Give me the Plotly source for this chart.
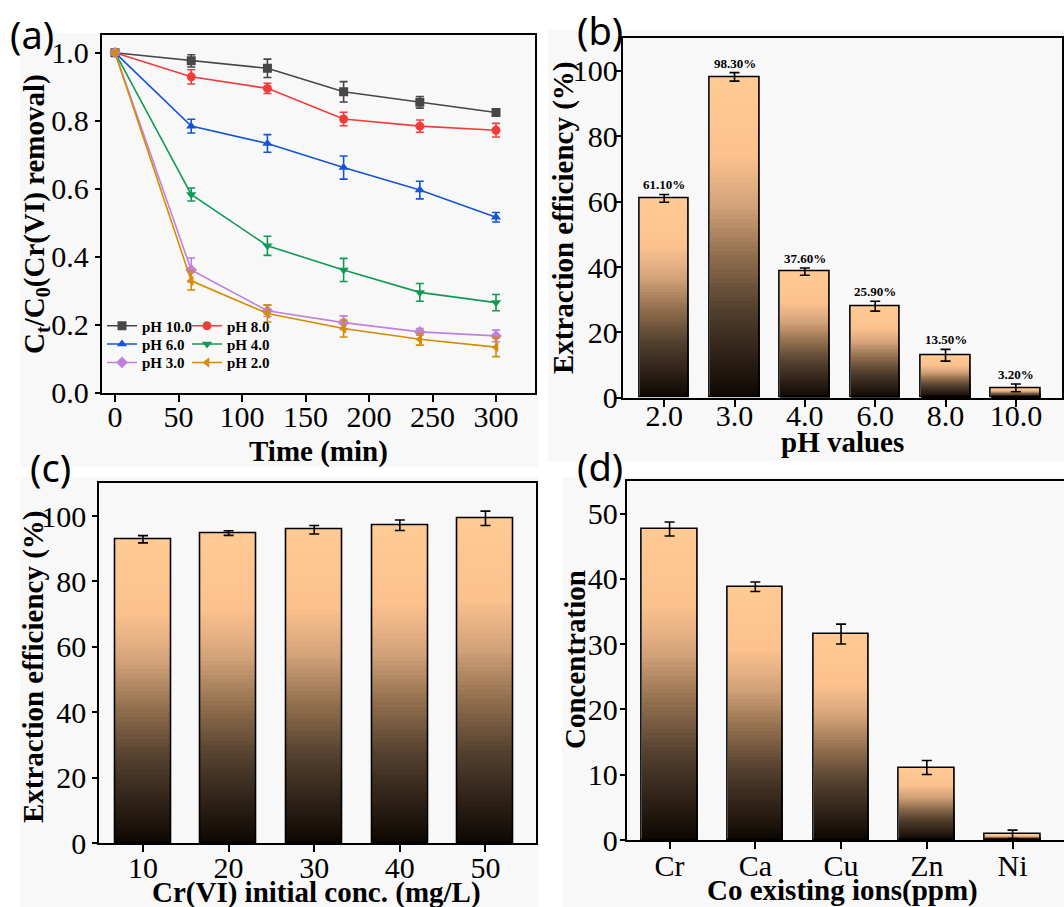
import plotly.graph_objects as go
import numpy as np

# ---------------- data ----------------
# (a) kinetics
time_min = [0, 60, 120, 180, 240, 300]
ph_names = ['pH 10.0', 'pH 8.0', 'pH 6.0', 'pH 4.0', 'pH 3.0', 'pH 2.0']
ct_ph10 = [1.0, 0.976, 0.954, 0.885, 0.854, 0.824]
ct_ph8 = [1.0, 0.929, 0.895, 0.805, 0.784, 0.772]
ct_ph6 = [1.0, 0.784, 0.733, 0.662, 0.596, 0.516]
ct_ph4 = [1.0, 0.583, 0.432, 0.361, 0.295, 0.265]
ct_ph3 = [1.0, 0.361, 0.241, 0.206, 0.179, 0.167]
ct_ph2 = [1.0, 0.329, 0.233, 0.189, 0.157, 0.134]
err_ph10 = [0.006, 0.018, 0.027, 0.030, 0.017, 0.010]
err_ph8 = [0.006, 0.021, 0.015, 0.020, 0.018, 0.020]
err_ph6 = [0.006, 0.020, 0.026, 0.034, 0.026, 0.014]
err_ph4 = [0.006, 0.019, 0.028, 0.034, 0.026, 0.024]
err_ph3 = [0.006, 0.035, 0.017, 0.020, 0.010, 0.017]
err_ph2 = [0.006, 0.027, 0.025, 0.025, 0.017, 0.028]

# (b) pH effect
ph_cats = ['2.0', '3.0', '4.0', '6.0', '8.0', '10.0']
ph_eff = [61.0, 98.2, 38.6, 28.0, 13.0, 3.0]
ph_err = [1.2, 1.3, 1.1, 1.5, 1.8, 1.2]
ph_labels = ['61.10%', '98.30%', '37.60%', '25.90%', '13.50%', '3.20%']

# (c) initial concentration
conc_cats = ['10', '20', '30', '40', '50']
conc_eff = [92.9, 94.8, 95.8, 97.2, 99.3]
conc_err = [1.1, 0.7, 1.3, 1.6, 2.2]

# (d) co-existing ions
ion_cats = ['Cr', 'Ca', 'Cu', 'Zn', 'Ni']
ion_conc = [47.65, 38.8, 31.55, 11.1, 0.87]
ion_err = [1.07, 0.72, 1.53, 1.07, 0.64]

# ---------------- styles ----------------
series_colors = ['#474747', '#f23c3c', '#1554d4', '#129a55', '#bf80e0', '#d48c00']
series_symbols = ['square', 'circle', 'triangle-up', 'triangle-down', 'diamond', 'triangle-left']
legend_of = ['legend', 'legend', 'legend2', 'legend2', 'legend3', 'legend3']

grad_stops = [0.0, 0.12, 0.28, 0.45, 0.6, 0.75, 1.0]
grad_cols = ['#0d0702', '#2b1f15', '#54402f', '#94714f', '#d4a37a', '#fbc18e', '#ffca94']

SERIF = 'Liberation Serif'
W, H = 1064, 907


def hex2rgb(h):
    h = h.lstrip('#')
    return [int(h[i:i + 2], 16) for i in (0, 2, 4)]


def grad_color(f):
    rgbs = np.array([hex2rgb(c) for c in grad_cols], dtype=float)
    r = [np.interp(f, grad_stops, rgbs[:, i]) for i in range(3)]
    return 'rgb(%d,%d,%d)' % tuple(int(round(v)) for v in r)


def gradient_bars(cats, vals, width, xa, ya, n=70):
    xs, ys, cs = [], [], []
    for k in range(n, 0, -1):
        col = grad_color((k - 0.5) / n)
        for c, v in zip(cats, vals):
            xs.append(c)
            ys.append(v * k / n)
            cs.append(col)
    return go.Bar(x=xs, y=ys, width=width, xaxis=xa, yaxis=ya,
                  marker=dict(color=cs, line=dict(width=0)),
                  showlegend=False, hoverinfo='skip')


def outline_bars(cats, vals, errs, width, xa, ya):
    return go.Bar(x=cats, y=vals, width=width, xaxis=xa, yaxis=ya,
                  marker=dict(color='rgba(0,0,0,0)', line=dict(color='black', width=1.6)),
                  error_y=dict(type='data', array=errs, color='black', thickness=1.6, width=5),
                  showlegend=False)


fig = go.Figure()

# (a)
ct_all = [ct_ph10, ct_ph8, ct_ph6, ct_ph4, ct_ph3, ct_ph2]
err_all = [err_ph10, err_ph8, err_ph6, err_ph4, err_ph3, err_ph2]
for name, yv, ev, col, sym, lg in zip(ph_names, ct_all, err_all, series_colors, series_symbols, legend_of):
    fig.add_trace(go.Scatter(
        x=time_min, y=yv, mode='lines+markers', name=name, legend=lg,
        line=dict(color=col, width=1.6),
        marker=dict(symbol=sym, size=9, color=col),
        error_y=dict(type='data', array=ev, color=col, thickness=1.6, width=4),
        xaxis='x', yaxis='y'))

# (b)
fig.add_trace(gradient_bars(ph_cats, ph_eff, 0.706, 'x2', 'y2'))
fig.add_trace(outline_bars(ph_cats, ph_eff, ph_err, 0.706, 'x2', 'y2'))
# (c)
fig.add_trace(gradient_bars(conc_cats, conc_eff, 0.654, 'x3', 'y3'))
fig.add_trace(outline_bars(conc_cats, conc_eff, conc_err, 0.654, 'x3', 'y3'))
# (d)
fig.add_trace(gradient_bars(ion_cats, ion_conc, 0.65, 'x4', 'y4'))
fig.add_trace(outline_bars(ion_cats, ion_conc, ion_err, 0.65, 'x4', 'y4'))


def px_x(p):
    return p / W


def px_y(p):
    return (H - p) / H


tick_font = dict(family=SERIF, size=30, color='black')
axis_common = dict(showline=True, linecolor='black', linewidth=2, mirror=True,
                   ticks='outside', tickwidth=2, tickcolor='black',
                   showgrid=False, zeroline=False, tickfont=tick_font, automargin=False)

layout_axes = dict(
    xaxis=dict(domain=[px_x(101.7), px_x(535)], range=[-10.5, 330.7], tickvals=[0, 50, 100, 150, 200, 250, 300],
               anchor='y', ticklen=7, ticklabelstandoff=-11, **axis_common),
    yaxis=dict(domain=[px_y(392.7), px_y(35)], range=[0, 1.052], tickvals=[0, 0.2, 0.4, 0.6, 0.8, 1.0],
               tickformat='.1f', anchor='x', ticklen=5, **axis_common),
    xaxis2=dict(domain=[px_x(622.7), px_x(1062.3)], range=[-0.59, 5.66], type='category', anchor='y2',
                ticklen=7, ticklabelstandoff=-17, **axis_common),
    yaxis2=dict(domain=[px_y(397.7), px_y(38.3)], range=[0, 110], tickvals=[0, 20, 40, 60, 80, 100],
                anchor='x2', ticklen=5, ticklabelstandoff=-8, **axis_common),
    xaxis3=dict(domain=[px_x(99.3), px_x(536)], range=[-0.51, 4.59], type='category', anchor='y3',
                ticklen=7, ticklabelstandoff=-10, **axis_common),
    yaxis3=dict(domain=[px_y(843.3), px_y(483.3)], range=[0, 110], tickvals=[0, 20, 40, 60, 80, 100],
                anchor='x3', ticklen=5, **axis_common),
    xaxis4=dict(domain=[px_x(626.7), 1.0], range=[-0.5, 4.6], type='category', anchor='y4',
                ticklen=7, ticklabelstandoff=-9, **axis_common),
    yaxis4=dict(domain=[px_y(840), px_y(481)], range=[0, 55], tickvals=[0, 10, 20, 30, 40, 50],
                anchor='x4', ticklen=5, ticklabelstandoff=-4, **axis_common),
)

title_font = dict(family=SERIF, size=29, color='black', weight='bold')
label_font = dict(family='Noto Sans', size=38, color='black')

annotations = []


def add_text(text, x, y, font, textangle=0, xref='paper', yref='paper', xanchor='center', yanchor='middle', **kw):
    annotations.append(dict(text=text, x=x, y=y, xref=xref, yref=yref, showarrow=False,
                            font=font, textangle=textangle, xanchor=xanchor, yanchor=yanchor, **kw))


# axis titles
add_text('Time (min)', px_x(318), px_y(451), title_font)
add_text('C<sub>t</sub>/C<sub>0</sub>(Cr(VI) removal)', px_x(36), px_y(214), title_font, textangle=-90)
add_text('pH values', px_x(842), px_y(442), title_font)
add_text('Extraction efficiency (%)', px_x(563), px_y(218), title_font, textangle=-90)
add_text('Cr(VI) initial conc. (mg/L)', px_x(316), px_y(892), title_font)
add_text('Extraction efficiency (%)', px_x(34), px_y(667), title_font, textangle=-90)
add_text('Co existing ions(ppm)', px_x(842), px_y(890), title_font)
add_text('Concentration', px_x(575), px_y(660), title_font, textangle=-90)

# panel labels
add_text('(a)', px_x(32), px_y(34), label_font)
add_text('(b)', px_x(600), px_y(30), label_font)
add_text('(c)', px_x(50), px_y(467), label_font)
add_text('(d)', px_x(600), px_y(466), label_font)

# value labels on (b)
for i, (v, e, t) in enumerate(zip(ph_eff, ph_err, ph_labels)):
    add_text(t, i, v + e, dict(family=SERIF, size=13, color='black', weight='bold'),
             xref='x2', yref='y2', yanchor='bottom', yshift=0)

# panel backgrounds
bg = '#f8f8f8'
shapes = []
for (x0, y0, x1, y1) in [(20, 33, 538, 467), (548, 30, 1064, 462), (20, 477, 538, 907), (562, 477, 1064, 907)]:
    shapes.append(dict(type='rect', xref='paper', yref='paper', x0=px_x(x0), x1=px_x(x1),
                       y0=px_y(y1), y1=px_y(y0), fillcolor=bg, line=dict(width=0), layer='below'))

leg_font = dict(family=SERIF, size=15, color='black', weight='bold')
leg_common = dict(orientation='h', x=px_x(102), xanchor='left', yanchor='middle', font=leg_font,
                  bgcolor='rgba(0,0,0,0)', entrywidth=40, entrywidthmode='pixels', borderwidth=0,
                  tracegroupgap=0)

fig.update_layout(
    width=W, height=H, margin=dict(l=0, r=0, t=0, b=0, pad=0, autoexpand=False),
    paper_bgcolor='white', plot_bgcolor=bg,
    barmode='overlay', bargap=0,
    annotations=annotations, shapes=shapes,
    legend=dict(y=px_y(326), **leg_common),
    legend2=dict(y=px_y(344.3), **leg_common),
    legend3=dict(y=px_y(362.7), **leg_common),
    **layout_axes,
)

fig.write_html('out.html')
